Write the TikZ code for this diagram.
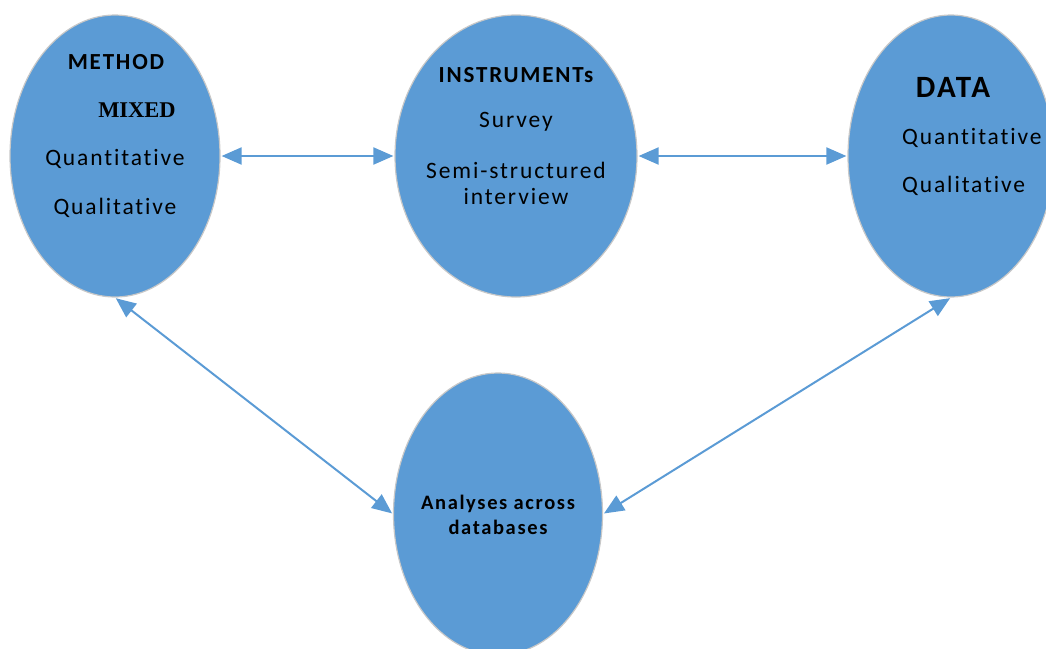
\documentclass[tikz,border=0pt]{standalone}
\usepackage{fontspec}
\setmainfont{Carlito}[LetterSpace=8,Ligatures=NoCommon]
\newfontfamily\mixfont{Liberation Serif}
\usetikzlibrary{shapes.geometric,arrows.meta}
\definecolor{officeblue}{HTML}{5B9BD5}
\definecolor{rimgray}{HTML}{C8C8C8}
\tikzset{
  bubble/.style={ellipse, fill=officeblue, draw=rimgray, line width=1.2pt, inner sep=0pt},
  link/.style={draw=officeblue, line width=2pt, {Triangle[length=20pt,width=17pt]}-{Triangle[length=20pt,width=17pt]}, shorten <=1pt, shorten >=1pt},
  txt/.style={inner sep=0pt, font=\fontsize{23.5}{26}\selectfont},
  hd/.style={inner sep=0pt, font=\fontsize{23}{26}\selectfont\bfseries},
}
\begin{document}
\begin{tikzpicture}[x=1pt,y=-1pt]
\useasboundingbox (0,0) rectangle (1046,648);
\clip (0,0) rectangle (1046,648);
% ellipses
\node[bubble, minimum width=210pt, minimum height=282pt] (L) at (115,156) {};
\node[bubble, minimum width=242pt, minimum height=282pt] (M) at (516,156) {};
\node[bubble, minimum width=206pt, minimum height=282pt] (R) at (951,156) {};
\node[bubble, minimum width=209pt, minimum height=282pt] (B) at (498,514) {};
% texts left
\node[hd] (lh) at (116,62) {METHOD};
\node[inner sep=0pt, font=\mixfont\fontsize{22.5}{26}\selectfont\bfseries] (lm) at (137,110) {MIXED};
\node[txt] (l1) at (115,159) {Quantitative};
\node[txt] (l2) at (115,208) {Qualitative};
% texts middle
\node[hd] (mh) at (516,75) {INSTRUMENTs};
\node[txt] (m1) at (516,122) {Survey};
\node[txt, align=center] (m2) at (516,183) {Semi-structured\\interview};
% texts right
\node[inner sep=0pt, font=\fontsize{31}{34}\selectfont\bfseries] (rh) at (953,87) {DATA};
\node[txt, anchor=west] (r1) at (902,138) {Quantitative};
\node[txt, anchor=west] (r2) at (902,186) {Qualitative};
% text bottom
\node[inner sep=0pt, align=center, font=\fontsize{20.5}{25}\selectfont\bfseries] (bt) at (498,515) {Analyses across\\databases};
% connectors
\draw[link] (L.east) -- (M.west);
\draw[link] (M.east) -- (R.west);
\draw[link] (L.south) -- (B.west);
\draw[link] (R.south) -- (B.east);
\end{tikzpicture}
\end{document}
